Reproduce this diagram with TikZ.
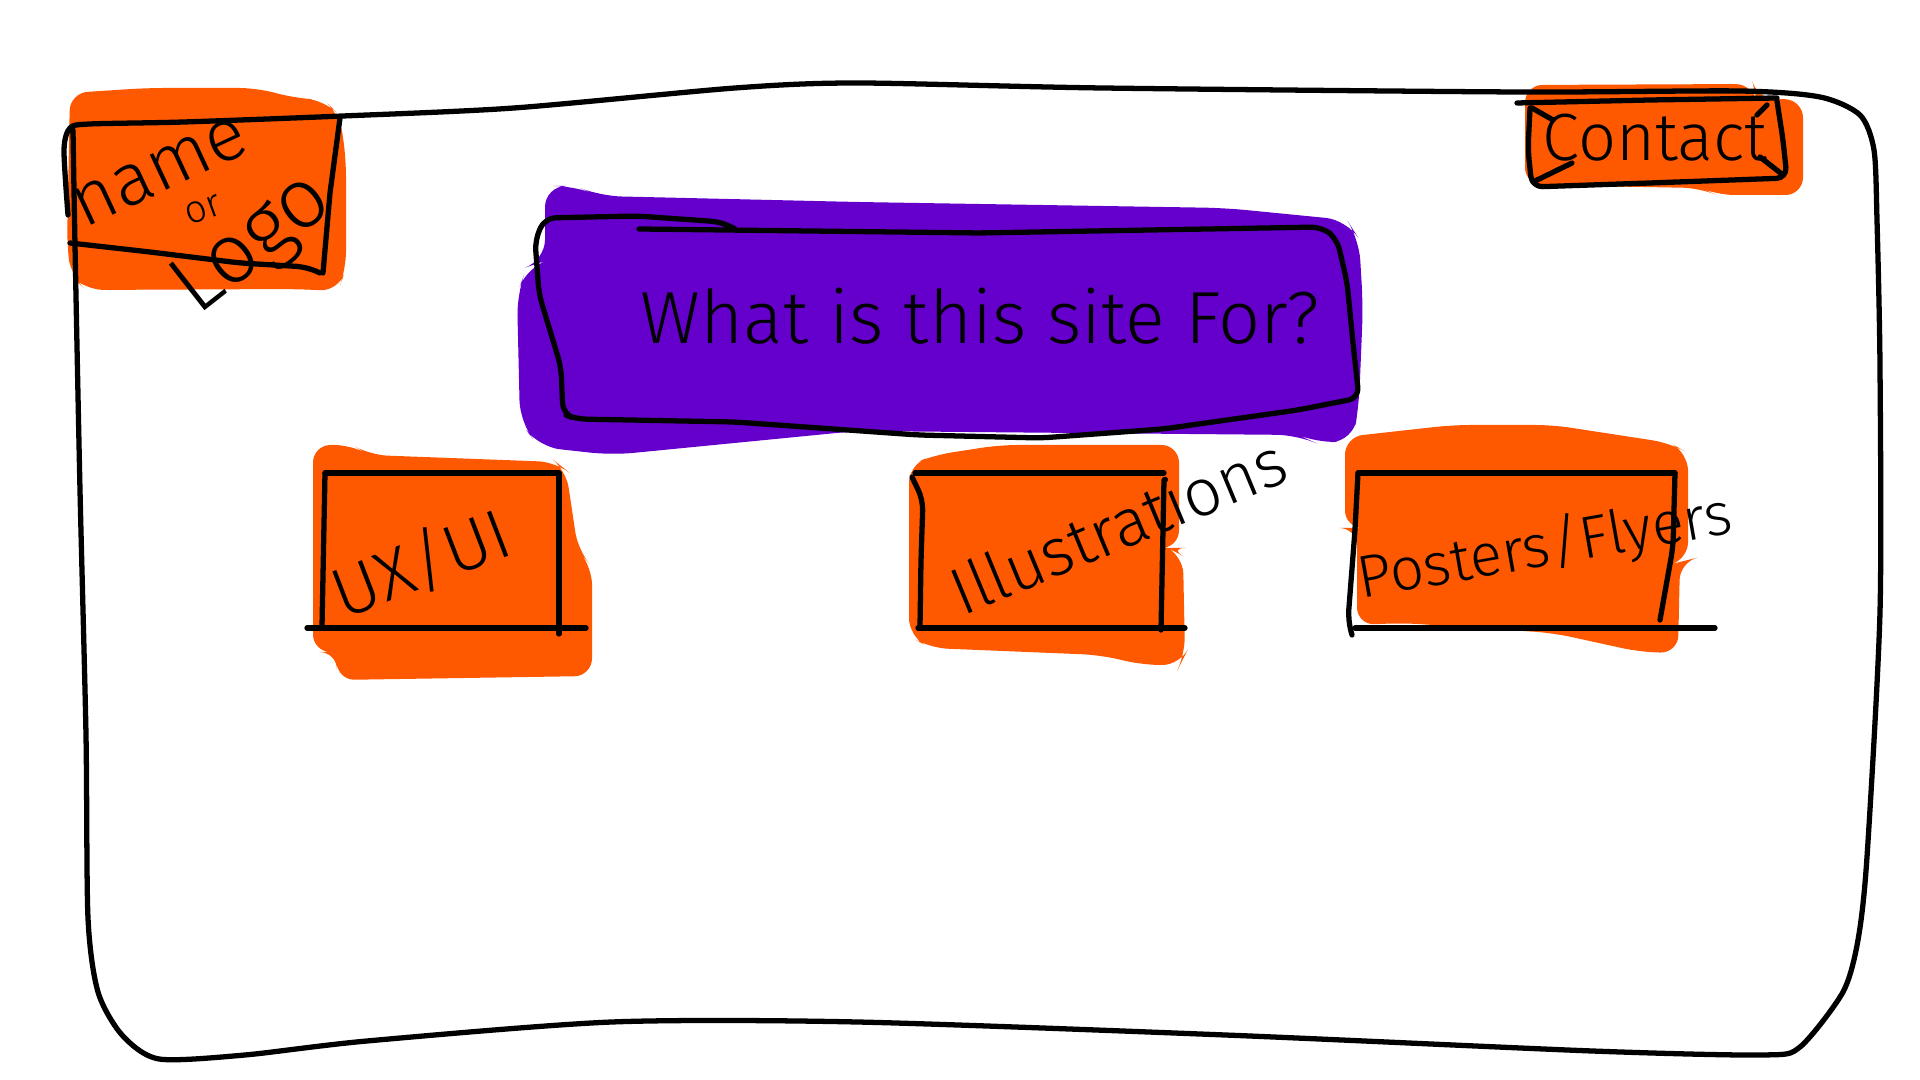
\documentclass[tikz,border=0pt]{standalone}
\usepackage{fontspec}
\setmainfont{Fira Sans}[UprightFont={* Light}]
\begin{document}
\begin{tikzpicture}[x=0.01cm,y=-0.01cm,
  ink/.style={line width=1.5pt,line cap=round,line join=round,draw=black},
  boxink/.style={ink,rounded corners=3pt},
  blobfill/.style={fill=paintorange,draw=none,rounded corners=5pt},
  purplefill/.style={fill=paintpurple,draw=none,rounded corners=6pt},
  hand/.style={inner sep=0pt,text=black}]
\definecolor{paintorange}{HTML}{FE5900}
\definecolor{paintpurple}{HTML}{6500CC}
\useasboundingbox[fill=white] (0,0) rectangle (1920,1080);

% ---- colour patches ----
% name / logo patch
\fill[blobfill] (70,93) -- (147,88) -- (257,88) -- (294,98) -- (324,100) -- (340,116)
  -- (346,159) -- (346,269) -- (338,291) -- (294,289) -- (86,290) -- (71,276) -- (67,245) -- cycle;
% contact patch
\fill[blobfill] (1525,85) -- (1753,84) -- (1756,98) -- (1803,100) -- (1803,195)
  -- (1717,195) -- (1700,188) -- (1525,185) -- cycle;
% UX/UI patch
\fill[blobfill] (313,445) -- (352,445) -- (370,455) -- (556,462) -- (566,470) -- (578,550)
  -- (592,567) -- (592,676) -- (337,680) -- (337,652) -- (313,652) -- cycle;
% illustrations patch
\fill[blobfill] (909,465) -- (935,455) -- (1000,445) -- (1179,445) -- (1179,548) -- (1168,548)
  -- (1183,556) -- (1185,655) -- (1180,665) -- (1143,665) -- (1100,655) -- (930,648) -- (909,636) -- cycle;
% posters patch
\fill[blobfill] (1345,437) -- (1453,425) -- (1553,425) -- (1670,443) -- (1688,453) -- (1688,560)
  -- (1680,562) -- (1678,653) -- (1640,652) -- (1553,633) -- (1403,623) -- (1357,625)
  -- (1357,528) -- (1345,528) -- cycle;
% headline patch
\fill[purplefill] (545,186) -- (575,186) -- (600,196) -- (857,202) -- (1225,208) -- (1347,220)
  -- (1359,239) -- (1363,306) -- (1359,404) -- (1353,441) -- (1316,443) -- (1298,435)
  -- (857,431) -- (612,455) -- (539,447) -- (520,422) -- (517,294) -- (527,267) -- (545,261) -- cycle;

% ---- page frame ----
\draw[ink] plot[smooth,tension=0.45] coordinates {(68,215) (64,150) (70,128) (90,124) (184,122)
  (343,116) (514,108) (735,88) (857,83) (1102,88) (1518,92) (1739,91) (1820,97) (1860,115)
  (1874,150) (1877,220) (1880,367) (1880,612) (1867,857) (1858,940) (1843,992) (1800,1047)
  (1763,1055) (1592,1051) (1225,1035) (857,1022) (612,1022) (367,1041) (245,1055) (159,1059)
  (122,1035) (98,992) (88,918) (86,735) (80,490) (75,245) (73,130)};

% ---- name / logo box ----
\draw[ink] (340,118) -- (330,193) -- (323,273);
\draw[boxink] (70,243) -- (150,252) -- (240,263) -- (307,267) -- (320,273);
\node[hand,rotate=25,font=\fontsize{21}{24}\selectfont] (name) at (160,172) {name};
\node[hand,rotate=20,font=\fontsize{11}{13}\selectfont] (or) at (203,210) {or};
\node[hand,rotate=38,font=\fontsize{24}{26}\selectfont] (logo) at (254,246) {Logo};

% ---- contact button ----
\draw[ink] (1517,103) -- (1650,100) -- (1777,98);
\draw[boxink] (1530,108) -- (1528,150) -- (1532,187) -- (1650,183) -- (1787,178)
  -- (1783,140) -- (1777,101);
\draw[ink] (1532,108) -- (1553,120);
\draw[ink] (1533,182) -- (1572,163);
\draw[ink] (1767,105) -- (1757,115);
\draw[ink] (1760,157) -- (1783,175);
\node[hand,font=\fontsize{19}{21}\selectfont] (contact) at (1655,138) {Contact};

% ---- headline box ----
\draw[boxink] (735,229) -- (722,222) -- (637,216) -- (545,218) -- (535,240) -- (539,294)
  -- (561,367) -- (563,414) -- (576,419) -- (735,422) -- (918,435) -- (1041,438) -- (1163,429)
  -- (1298,410) -- (1359,398) -- (1353,343) -- (1347,282) -- (1337,239) -- (1322,227)
  -- (980,233) -- (639,229);
\node[hand,font=\fontsize{21}{24}\selectfont] (headline) at (980,316) {What is this site For?};

% ---- UX/UI card ----
\draw[ink] (325,473) -- (559,473);
\draw[ink] (325,473) -- (322,627);
\draw[ink] (559,473) -- (559,634);
\draw[ink] (307,628) -- (586,628);
\node[hand,rotate=21,font=\fontsize{20}{22}\selectfont] (uxui) at (421,563) {UX/UI};

% ---- illustrations card ----
\draw[ink] (915,473) -- (1164,473);
\draw[boxink] (912,477) -- (923,500) -- (921,560) -- (920,627);
\draw[ink] (918,628) -- (1185,628);
\draw[ink] (1164,480) -- (1161,630);
\node[hand,rotate=22.5,font=\fontsize{19}{21}\selectfont] (illus) at (1118,525) {Illustrations};

% ---- posters card ----
\draw[ink] (1358,473) -- (1675,473);
\draw[boxink] (1358,473) -- (1355,530) -- (1348,620) -- (1352,635);
\draw[ink] (1355,628) -- (1715,628);
\draw[boxink] (1675,473) -- (1673,547) -- (1660,620);
\node[hand,rotate=10,font=\fontsize{17}{20}\selectfont] (posters) at (1545,548) {Posters/Flyers};
\end{tikzpicture}
\end{document}
